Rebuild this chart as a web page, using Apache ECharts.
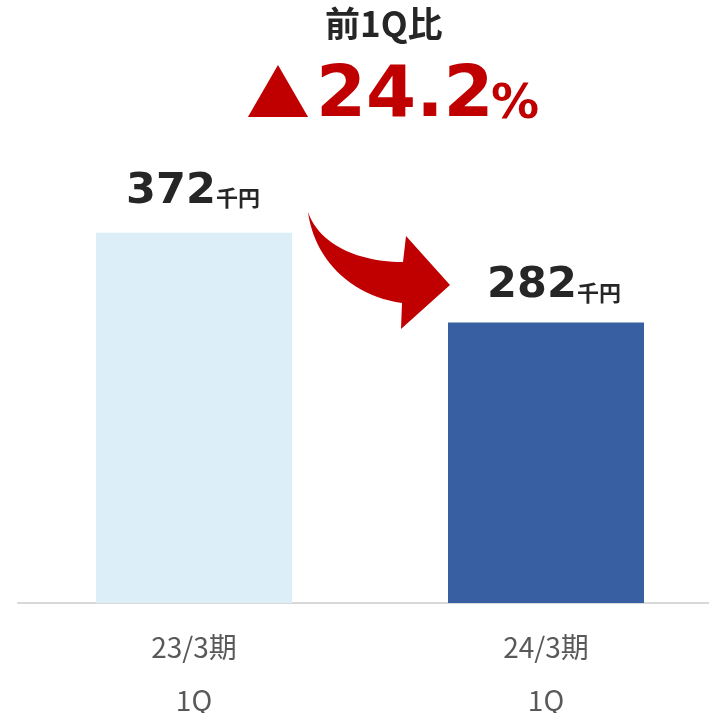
<!DOCTYPE html>
<html>
<head>
<meta charset="utf-8">
<script src="https://cdn.jsdelivr.net/npm/echarts@6/dist/echarts.min.js"></script>
<style>
html, body { margin: 0; padding: 0; background: #fff; }
#main { width: 709px; height: 713px; }
</style>
</head>
<body>
<div id="main"></div>
<script>
// データ
var periods = ['23/3期', '24/3期'];
var quarters = ['1Q', '1Q'];
var values = [372, 282];
var barColors = ['#DCEEF7', '#375FA2'];
var unit = '千円';
var ratioTitle = '前1Q比';
var ratioValue = '24.2';

var dom = document.getElementById('main');
var myChart = echarts.init(dom);

var categories = periods.map(function (p, i) { return p + '\n' + quarters[i]; });
var labelOffsets = [[-1, 0], [8, 5]];

// 矢印の曲線部分（3次ベジェを折れ線に）
function bezier(p0, p1, p2, p3, n) {
    var pts = [];
    for (var i = 0; i <= n; i++) {
        var t = i / n, u = 1 - t;
        pts.push([
            u * u * u * p0[0] + 3 * u * u * t * p1[0] + 3 * u * t * t * p2[0] + t * t * t * p3[0],
            u * u * u * p0[1] + 3 * u * u * t * p1[1] + 3 * u * t * t * p2[1] + t * t * t * p3[1]
        ]);
    }
    return pts;
}
var arrowPts = bezier([308, 212], [320, 246], [360, 262], [403, 262], 24)
    .concat([[406, 236], [450, 285], [401, 329]])
    .concat(bezier([402, 303], [350, 296], [314, 258], [308, 212], 24));

var option = {
    animation: false,
    grid: { left: 18, top: 6, bottom: 110, width: 704, outerBoundsMode: 'none', containLabel: false },
    xAxis: {
        type: 'category',
        data: categories,
        axisLine: { lineStyle: { color: '#D9D9D9', width: 2 } },
        axisTick: { show: false },
        axisLabel: {
            color: '#595959',
            fontFamily: 'Noto Sans CJK JP',
            fontSize: 28,
            lineHeight: 53,
            margin: 18
        }
    },
    yAxis: {
        type: 'value',
        min: 0,
        max: 600,
        show: false
    },
    series: [{
        type: 'bar',
        barWidth: 196,
        data: values.map(function (v, i) {
            return { value: v, itemStyle: { color: barColors[i] }, label: { offset: labelOffsets[i] } };
        }),
        label: {
            show: true,
            position: 'top',
            distance: 20,
            formatter: '{a|{c}}{b|' + unit + '}',
            rich: {
                a: {
                    fontFamily: 'DejaVu Sans',
                    fontWeight: 'bold',
                    fontSize: 43,
                    color: '#262626',
                    lineHeight: 44,
                    verticalAlign: 'bottom'
                },
                b: {
                    fontFamily: 'Noto Sans CJK JP',
                    fontWeight: 'bold',
                    fontSize: 22,
                    color: '#262626',
                    lineHeight: 44,
                    verticalAlign: 'bottom',
                    padding: [0, 0, 4, 0]
                }
            }
        }
    }],
    graphic: [
        {
            type: 'text',
            left: 325,
            top: 6,
            style: {
                text: ratioTitle,
                fontFamily: 'Noto Sans CJK JP',
                fontWeight: 'bold',
                fontSize: 35,
                fill: '#262626'
            }
        },
        {
            type: 'text',
            left: 246,
            top: 62,
            style: {
                text: '▲',
                fontFamily: 'Noto Sans CJK JP',
                fontSize: 64,
                fill: '#C00000'
            }
        },
        {
            type: 'text',
            left: 316,
            top: 61,
            style: {
                text: ratioValue,
                fontFamily: 'DejaVu Sans',
                fontWeight: 'bold',
                fontSize: 72,
                fill: '#C00000'
            }
        },
        {
            type: 'text',
            left: 491,
            top: 82,
            style: {
                text: '%',
                fontFamily: 'DejaVu Sans',
                fontWeight: 'bold',
                fontSize: 48,
                fill: '#C00000'
            }
        },
        {
            // 曲線矢印
            type: 'polygon',
            shape: { points: arrowPts },
            style: { fill: '#C00000' }
        }
    ]
};

myChart.setOption(option);
</script>
</body>
</html>
